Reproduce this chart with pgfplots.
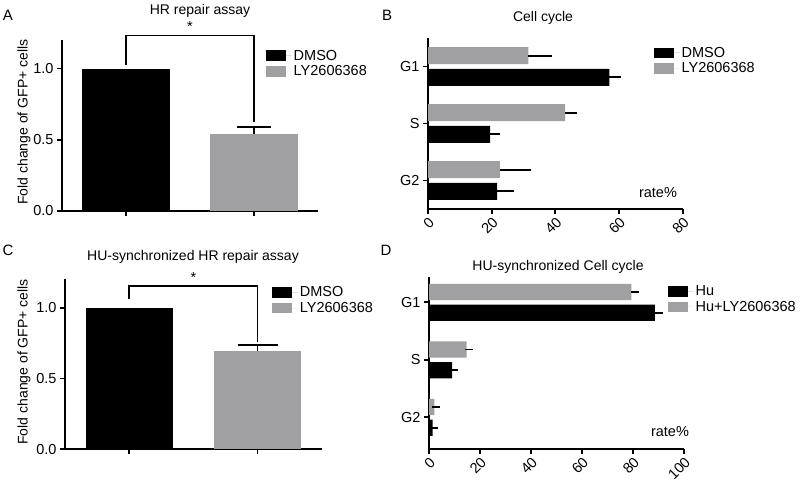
\documentclass[border=0pt]{standalone}
\usepackage{pgfplots}
\pgfplotsset{compat=1.18}
\usepackage{fontspec}
\setmainfont{Liberation Sans}
\definecolor{bargray}{RGB}{160,160,163}
\newcommand{\tickfont}{\fontsize{14.5}{16}\selectfont}
\newcommand{\legfont}{\fontsize{14.5}{16}\selectfont}
\newcommand{\titfont}{\fontsize{14}{16}\selectfont}
\newcommand{\labfont}{\fontsize{14}{16}\selectfont}
\newcommand{\panfont}{\fontsize{15}{17}\selectfont}
\pgfplotsset{
  gpaxis/.style={
    scale only axis,
    axis lines=left,
    axis line style={line width=1.8pt, -},
    major tick style={line width=1.8pt, black},
    tick align=outside,
    major tick length=5pt,
    tick label style={font=\tickfont},
    /pgf/number format/assume math mode=true,
    clip=false,
    legend style={draw=none, fill=none, font=\legfont, legend cell align=left,
      anchor=north west, row sep=0pt, inner sep=0pt},
    legend image code/.code={\draw[##1,draw=none] (0pt,-5.3pt) rectangle (20.5pt,5.3pt);
      \path (0pt,0pt) -- (26pt,0pt);},
  },
  gpvbar/.style={
    xmin=0.5, xmax=2.5, ymin=0, ymax=1.2, xtick={1,2}, xticklabels={},
    ytick={0,0.5,1},
    yticklabel style={/pgf/number format/.cd, fixed, fixed zerofill, precision=1},
    ylabel={Fold change of GFP+ cells},
  },
  gphbar/.style={
    ytick={0,1,2}, yticklabels={G2,S,G1},
    xticklabel style={rotate=45, anchor=north east, inner sep=1.5pt},
  },
  yerr/.style={error bars/.cd, y dir=plus, y explicit,
    error bar style={line width=1.8pt, black},
    error mark options={rotate=90, mark size=#1, line width=1.8pt, black}},
  xerr/.style={error bars/.cd, x dir=plus, x explicit,
    error bar style={line width=1.8pt, black},
    error mark options={mark size=#1, line width=1.8pt, black}},
}
\begin{document}
\begin{tikzpicture}
\useasboundingbox (0pt,0pt) rectangle (800pt,-482pt);

% ---------- Panel A ----------
\begin{axis}[gpaxis, gpvbar, at={(62pt,-211pt)}, anchor=south west,
  width=256pt, height=171pt,
  ylabel style={font=\labfont, at={(axis description cs:-0.148,0.52)}, anchor=center},
  legend style={at={(rel axis cs:0.795,0.955)}}]
\addplot[ybar, bar width=0.68, bar shift=0pt, fill=black, draw=none]
  coordinates {(1,1.0)};
\addlegendentry{DMSO}
\addplot[ybar, bar width=0.68, bar shift=0pt, fill=bargray, draw=none, yerr=17pt]
  coordinates {(2,0.54) +- (0,0.05)};
\addlegendentry{LY2606368}
\addplot[black, line width=1.8pt, sharp plot, mark=none, forget plot]
  coordinates {(1,1.028) (1,1.232) (2,1.232) (2,0.627)};
\node[font=\legfont, anchor=south] at (axis cs:1.5,1.232) {*};
\end{axis}

% ---------- Panel B ----------
\begin{axis}[gpaxis, gphbar, at={(428pt,-209pt)}, anchor=south west,
  width=254.7pt, height=171pt,
  xmin=0, xmax=80, ymin=-0.5, ymax=2.5,
  xtick={0,20,40,60,80},
  legend style={at={(rel axis cs:0.885,0.96)}}]
\addplot[xbar, bar width=0.3, bar shift=0pt, fill=black, draw=none, xerr=4pt]
  coordinates {(57.0,1.81) +- (2.3,0) (19.5,0.81) +- (1.8,0) (21.7,-0.19) +- (3.9,0)};
\addlegendentry{DMSO}
\addplot[xbar, bar width=0.3, bar shift=0pt, fill=bargray, draw=none, xerr=4pt]
  coordinates {(31.5,2.19) +- (6.1,0) (43.1,1.19) +- (2.4,0) (22.6,0.19) +- (8.4,0)};
\addlegendentry{LY2606368}
\node[font=\tickfont] at (rel axis cs:0.903,0.094) {rate\%};
\end{axis}

% ---------- Panel C ----------
\begin{axis}[gpaxis, gpvbar, at={(65pt,-449.3pt)}, anchor=south west,
  width=256.7pt, height=170pt,
  ylabel style={font=\labfont, at={(axis description cs:-0.16,0.514)}, anchor=center},
  legend style={at={(rel axis cs:0.805,0.97)}}]
\addplot[ybar, bar width=0.68, bar shift=0pt, fill=black, draw=none]
  coordinates {(1,1.0)};
\addlegendentry{DMSO}
\addplot[ybar, bar width=0.68, bar shift=0pt, fill=bargray, draw=none, yerr=20pt]
  coordinates {(2,0.694) +- (0,0.043)};
\addlegendentry{LY2606368}
\addplot[black, line width=1.8pt, sharp plot, mark=none, forget plot]
  coordinates {(1,1.064) (1,1.153) (2,1.153) (2,0.76)};
\node[font=\legfont, anchor=south] at (axis cs:1.5,1.153) {*};
\end{axis}

% ---------- Panel D ----------
\begin{axis}[gpaxis, gphbar, at={(429pt,-449pt)}, anchor=south west,
  width=255pt, height=172.5pt,
  xmin=0, xmax=100, ymin=-0.55, ymax=2.45,
  xtick={0,20,40,60,80,100},
  legend style={at={(rel axis cs:0.935,0.96)}}]
\addplot[xbar, bar width=0.28, bar shift=0pt, fill=black, draw=none, xerr=4pt]
  coordinates {(88.6,1.82) +- (1.4,0) (9.1,0.82) +- (0.7,0) (1.4,-0.18) +- (0.4,0)};
\addlegendentry{Hu}
\addplot[xbar, bar width=0.28, bar shift=0pt, fill=bargray, draw=none, xerr=4pt]
  coordinates {(79.4,2.18) +- (1.3,0) (14.8,1.18) +- (0.9,0) (2.1,0.18) +- (0.6,0)};
\addlegendentry{Hu+LY2606368}
\node[font=\tickfont] at (rel axis cs:0.945,0.099) {rate\%};
\end{axis}

% ---------- titles and panel letters ----------
\node[font=\titfont] at (200pt,-11pt) {HR repair assay};
\node[font=\titfont] at (543pt,-18pt) {Cell cycle};
\node[font=\titfont] at (193pt,-257pt) {HU-synchronized HR repair assay};
\node[font=\titfont] at (558pt,-267pt) {HU-synchronized Cell cycle};
\node[font=\panfont] at (8pt,-15pt) {A};
\node[font=\panfont] at (387pt,-15pt) {B};
\node[font=\panfont] at (8pt,-250pt) {C};
\node[font=\panfont] at (386pt,-250pt) {D};
\end{tikzpicture}
\end{document}
